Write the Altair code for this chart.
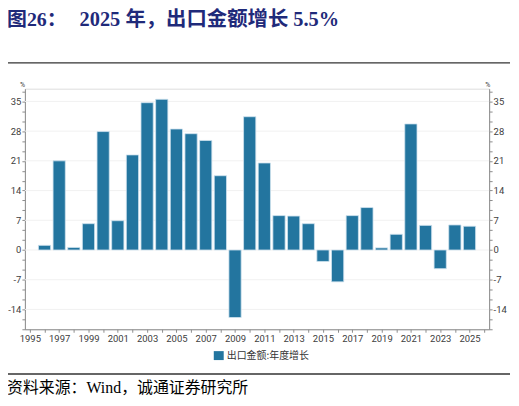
import altair as alt
import pandas as pd

years = list(range(1996, 2026))
growth = [1.1, 21.0, 0.6, 6.2, 27.9, 6.9, 22.4, 34.7, 35.5, 28.5,
          27.4, 25.8, 17.5, -15.9, 31.4, 20.5, 8.1, 8.0, 6.2, -2.7,
          -7.5, 8.1, 10.0, 0.5, 3.7, 29.7, 5.8, -4.4, 5.9, 5.6]
major_ticks = [-14, -7, 0, 7, 14, 21, 28, 35]
series_name = "出口金额:年度增长"
title_a = "图26："
title_b = "2025 年，出口金额增长 5.5%"
source = "资料来源：Wind，诚通证券研究所"

df = pd.DataFrame({"year": years, "value": growth})
grid_df = pd.DataFrame({"v": major_ticks})
one = pd.DataFrame({"a": [0]})

Y_DOM = [-18.67, 38]
X_DOM = [1995, 2026]
y_ticks = [round(k * 7 / 3, 4) for k in range(-8, 17)]
x_ticks = list(range(1995, 2027))

PL = 17          # left padding (plot starts at 8 + PL)
W, H = 467, 242
BAR = "#23759F"
AXC = "#8c8c8c"
LBL = "#404040"
LFONT = "Roboto"

yscale = alt.Scale(domain=Y_DOM, nice=False, zero=False)
ylabel = "abs(datum.value/7 - round(datum.value/7)) < 0.001 ? '' + round(datum.value) : ''"

def yaxis(orient):
    return alt.Axis(orient=orient, values=y_ticks, labelExpr=ylabel, grid=False,
                    domainColor=AXC, tickColor=AXC, tickSize=3, labelColor=LBL,
                    labelFont=LFONT, labelFontSize=9.5, labelPadding=1, title=None)

xaxis = alt.Axis(values=x_ticks,
                 labelExpr="(datum.value % 2 == 1 && datum.value <= 2025) ? '' + datum.value : ''",
                 grid=False, domainColor=AXC, tickColor=AXC, tickSize=3, labelColor=LBL,
                 labelFont=LFONT, labelFontSize=9.5, labelPadding=1, labelFlush=False,
                 labelOverlap=False, title=None)

grid = alt.Chart(grid_df).mark_rule(color="#f1f1f1", strokeWidth=1).encode(
    y=alt.Y("v:Q", scale=yscale, axis=yaxis("right")),
    x=alt.value(0), x2=alt.value(W),
)

bars = alt.Chart(df).mark_bar(width=12.3, color=BAR, stroke="#cfe2ee", strokeWidth=0.8).encode(
    x=alt.X("year:Q", scale=alt.Scale(domain=X_DOM, nice=False, zero=False), axis=xaxis),
    y=alt.Y("value:Q", scale=yscale, axis=yaxis("left")),
    y2=alt.datum(0),
)

def txt(text, x, y, size, color="black", font="Liberation Serif, Noto Sans CJK SC",
        weight="normal", align="left", baseline="middle"):
    return alt.Chart(one).mark_text(text=text, fontSize=size, color=color, font=font,
                                    fontWeight=weight, align=align, baseline=baseline).encode(
        x=alt.value(x - (8 + PL)), y=alt.value(y))

def hrule(y, x1, x2, color, sw):
    return alt.Chart(one).mark_rule(color=color, strokeWidth=sw).encode(
        x=alt.value(x1 - (8 + PL)), x2=alt.value(x2 - (8 + PL)), y=alt.value(y))

NAVY = "#1f2a7a"
# x arguments below are page pixels; y are relative to the plot top
t1 = txt(title_a, 7, -69, 20, color=NAVY, weight="bold")
t2 = txt(title_b, 80, -69, 20.5, color=NAVY, weight="bold")
r1 = hrule(-26, 7, 513, "#333333", 1.3)
pct_l = txt("%", 20, -1, 7, color=LBL, font=LFONT, baseline="bottom")
pct_r = txt("%", 488, -1, 7, color=LBL, font=LFONT, baseline="bottom")
leg_sq = alt.Chart(one).mark_rect(color=BAR).encode(
    x=alt.value(215 - (8 + PL)), x2=alt.value(225 - (8 + PL)), y=alt.value(264), y2=alt.value(273))
leg_tx = txt(series_name, 228, 268.5, 10, color="#333333", font="Noto Sans CJK SC")
r2 = hrule(287, 7, 513, "#333333", 1.3)
src = txt(source, 7, 301, 16, color="black")

chart = alt.layer(grid, bars, t1, t2, r1, pct_l, pct_r, leg_sq, leg_tx, r2, src).resolve_axis(
    y="independent"
).properties(
    width=W, height=H,
    autosize=alt.AutoSizeParams(type="none"),
    padding={"left": PL, "top": 80, "right": 22, "bottom": 72},
).configure_view(stroke=None).configure(background="white")

chart.save("out.html", embed_options={"renderer": "svg", "actions": False})
